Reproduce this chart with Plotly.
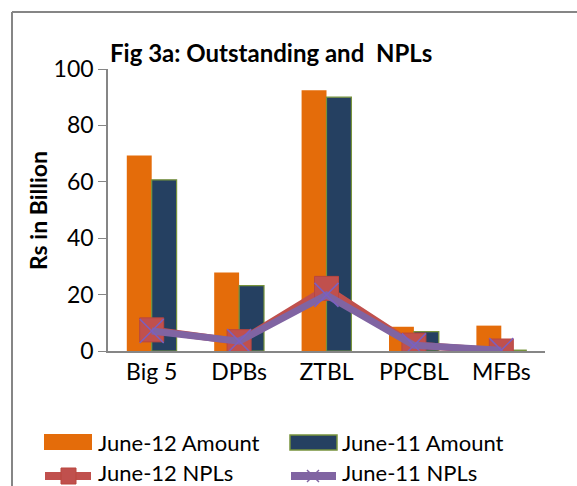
import plotly.graph_objects as go

categories = ["Big 5", "DPBs", "ZTBL", "PPCBL", "MFBs"]
june12_amount = [69.3, 27.8, 92.5, 8.6, 9.0]
june11_amount = [60.7, 23.2, 90.0, 6.9, 0.3]
june12_npls = [7.5, 3.3, 22.2, 2.1, 0.0]
june11_npls = [7.1, 3.5, 19.9, 2.0, 0.3]
y_ticks = [0, 20, 40, 60, 80, 100]
series_names = ["June-12 Amount", "June-11 Amount", "June-12 NPLs", "June-11 NPLs"]

FONT = "Lato"
C_ORANGE = "#E46C0A"
C_NAVY = "#254061"
C_OLIVE = "#77933C"
C_RED = "#C0504D"
C_PURPLE = "#8064A2"

# plot area in pixels
L, R, T, B = 108, 545, 69, 351
W, H = 577, 486


def px(x):
    return (x - L) / (R - L)


def py(y):
    return (B - y) / (B - T)


fig = go.Figure()
fig.add_trace(go.Bar(x=categories, y=june12_amount, name=series_names[0],
                     marker=dict(color=C_ORANGE, line=dict(width=0))))
fig.add_trace(go.Bar(x=categories, y=june11_amount, name=series_names[1],
                     marker=dict(color=C_NAVY, line=dict(color=C_OLIVE, width=1.2))))
fig.add_trace(go.Scatter(x=categories, y=june12_npls, name=series_names[2], mode="lines+markers",
                         line=dict(color=C_RED, width=7),
                         marker=dict(symbol="square", size=24, color=C_RED,
                                     line=dict(color="#B9473F", width=1))))
fig.add_trace(go.Scatter(x=categories, y=june11_npls, name=series_names[3], mode="lines+markers",
                         line=dict(color=C_PURPLE, width=7),
                         marker=dict(symbol="x-thin", size=24, color=C_PURPLE,
                                     line=dict(color="#7A60C0", width=1.5))))

fig.update_layout(
    width=W, height=H,
    margin=dict(l=L, r=W - R, t=T, b=H - B, autoexpand=False),
    paper_bgcolor="white", plot_bgcolor="white",
    font=dict(family=FONT, color="black"),
    barmode="group", bargap=0.43, bargroupgap=0,
    showlegend=False,
    xaxis=dict(showline=True, linecolor="#868686", linewidth=1.5, ticks="",
               tickfont=dict(size=23, family=FONT), showgrid=False, zeroline=False),
    yaxis=dict(range=[0, 100], tickvals=y_ticks, showline=True, linecolor="#868686",
               linewidth=1.5, ticks="outside", ticklen=8, tickcolor="#868686",
               tickfont=dict(size=23, family=FONT), showgrid=False, zeroline=False),
)

# title
fig.add_annotation(text="<b>Fig 3a: Outstanding and  NPLs</b>", xref="paper", yref="paper",
                   x=px(271), y=py(53), xanchor="center", yanchor="middle", showarrow=False,
                   font=dict(size=24, family=FONT))
# y axis title
fig.add_annotation(text="<b>Rs in Billion</b>", xref="paper", yref="paper",
                   x=px(38), y=py(211), xanchor="center", yanchor="middle", showarrow=False,
                   textangle=-90, font=dict(size=23, family=FONT))

# chart frame (left and top border)
fig.add_shape(type="line", xref="paper", yref="paper", x0=px(12), x1=px(12),
              y0=py(H + 10), y1=py(12), line=dict(color="#868686", width=2))
fig.add_shape(type="line", xref="paper", yref="paper", x0=px(12), x1=px(W + 10),
              y0=py(12), y1=py(12), line=dict(color="#868686", width=2))

# manual legend
legend_font = dict(size=22, family=FONT, color="black")
# June-12 Amount
fig.add_shape(type="rect", xref="paper", yref="paper", x0=px(44), x1=px(92), y0=py(450), y1=py(434),
              fillcolor=C_ORANGE, line=dict(width=0))
# June-11 Amount
fig.add_shape(type="rect", xref="paper", yref="paper", x0=px(290), x1=px(337), y0=py(450), y1=py(435),
              fillcolor=C_NAVY, line=dict(color=C_OLIVE, width=1.5))
# June-12 NPLs
fig.add_shape(type="line", xref="paper", yref="paper", x0=px(45), x1=px(91), y0=py(476), y1=py(476),
              line=dict(color=C_RED, width=8))
fig.add_shape(type="rect", xref="paper", yref="paper", x0=px(61), x1=px(76), y0=py(484), y1=py(468),
              fillcolor=C_RED, line=dict(color="#B9473F", width=1))
# June-11 NPLs
fig.add_shape(type="line", xref="paper", yref="paper", x0=px(291), x1=px(336), y0=py(476), y1=py(476),
              line=dict(color=C_PURPLE, width=8))
fig.add_shape(type="line", xref="paper", yref="paper", x0=px(307), x1=px(319), y0=py(470), y1=py(482),
              line=dict(color=C_PURPLE, width=1.5))
fig.add_shape(type="line", xref="paper", yref="paper", x0=px(307), x1=px(319), y0=py(482), y1=py(470),
              line=dict(color=C_PURPLE, width=1.5))

for name, lx, ly in [(series_names[0], 96, 442), (series_names[1], 340, 442),
                     (series_names[2], 96, 472), (series_names[3], 340, 472)]:
    fig.add_annotation(text=name, xref="paper", yref="paper", x=px(lx), y=py(ly),
                       xanchor="left", yanchor="middle", showarrow=False, font=legend_font)

fig.write_html("out.html", config={"displayModeBar": False},
               post_script="document.body.style.margin='0px';document.body.style.overflow='hidden';")
